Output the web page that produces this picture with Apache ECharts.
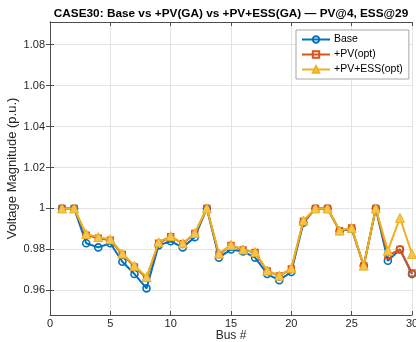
<!DOCTYPE html>
<html>
<head>
<meta charset="utf-8">
<script src="https://cdn.jsdelivr.net/npm/echarts@6/dist/echarts.min.js"></script>
<style>
html,body{margin:0;padding:0;background:#fff;}
#c{width:416px;height:342px;}
</style>
</head>
<body>
<div id="c"></div>
<script>
const buses = [1,2,3,4,5,6,7,8,9,10,11,12,13,14,15,16,17,18,19,20,21,22,23,24,25,26,27,28,29,30];
const baseV = [1.000,1.000,0.983,0.981,0.983,0.974,0.968,0.961,0.982,0.984,0.981,0.986,1.000,0.976,0.980,0.979,0.976,0.968,0.965,0.969,0.993,1.000,1.000,0.989,0.990,0.972,1.000,0.9745,0.980,0.968];
const pvV   = [1.000,1.000,0.987,0.9855,0.9845,0.9775,0.9715,0.966,0.983,0.9862,0.9828,0.9878,1.000,0.9775,0.982,0.9798,0.9785,0.9695,0.967,0.9705,0.9938,1.000,1.000,0.9892,0.9905,0.972,1.000,0.977,0.980,0.9685];
const essV  = [1.000,1.000,0.9875,0.986,0.985,0.978,0.972,0.9665,0.9835,0.9865,0.983,0.988,1.000,0.978,0.9822,0.980,0.9787,0.9697,0.9672,0.9708,0.9941,1.000,1.000,0.9892,0.9905,0.9721,1.000,0.9794,0.9954,0.9778];
const yTicks = [0.96,0.98,1.00,1.02,1.04,1.06,1.08];
const xTicks = [0,5,10,15,20,25,30];
const names = ['Base','+PV(opt)','+PV+ESS(opt)'];
const titleText = 'CASE30: Base vs +PV(GA) vs +PV+ESS(GA) \u2014 PV@4, ESS@29';

const pts = arr => buses.map((b,i)=>[b,arr[i]]);
const fontFam = '"Liberation Sans", Arial, Helvetica, sans-serif';
const axisCol = '#4d4d4d';
const lblCol = '#262626';
const gridCol = '#e3e3e3';
const fmtY = v => { const s = (+v).toFixed(2).replace(/0+$/,'').replace(/\.$/,''); return s; };

const chart = echarts.init(document.getElementById('c'), null, {renderer:'canvas'});
chart.setOption({
  animation:false,
  backgroundColor:'#fff',
  title:{
    text:titleText, left:226, top:3, textAlign:'center',
    textStyle:{fontFamily:fontFam, fontSize:11.8, fontWeight:'bold', color:'#000'}
  },
  legend:{
    data:names, orient:'vertical', left:296, top:30,
    itemWidth:28, itemHeight:8, itemGap:4,
    padding:[4,6,4,5],
    borderColor:'#a6a6a6', borderWidth:1, backgroundColor:'#fff',
    textStyle:{fontFamily:fontFam, fontSize:10.5, color:'#000', padding:[0,0,0,-1]}
  },
  grid:{left:50, right:4, top:22, bottom:27, containLabel:false, outerBoundsMode:'none'},
  xAxis:[{
    type:'value', min:0, max:30, interval:5,
    name:'Bus #', nameLocation:'middle', nameGap:15, nameMoveOverlap:false,
    nameTextStyle:{fontFamily:fontFam, fontSize:12, color:lblCol, verticalAlign:'top'},
    axisLine:{show:true, lineStyle:{color:axisCol, width:1}},
    axisTick:{show:true, inside:true, length:4, lineStyle:{color:axisCol}},
    axisLabel:{fontFamily:fontFam, fontSize:11, color:lblCol, margin:3, customValues:xTicks},
    splitLine:{show:true, lineStyle:{color:gridCol, width:1}}
  },{
    type:'value', min:0, max:30, interval:5, position:'top',
    axisLine:{show:true, lineStyle:{color:axisCol, width:1}},
    axisTick:{show:true, inside:true, length:4, lineStyle:{color:axisCol}},
    axisLabel:{show:false}, splitLine:{show:false}
  }],
  yAxis:[{
    type:'value', min:0.948, max:1.091,
    name:'Voltage Magnitude (p.u.)', nameLocation:'middle', nameGap:31, nameMoveOverlap:false,
    nameTextStyle:{fontFamily:fontFam, fontSize:13, color:lblCol},
    axisLine:{show:true, lineStyle:{color:axisCol, width:1}},
    axisTick:{show:true, inside:true, length:4, customValues:yTicks, lineStyle:{color:axisCol}},
    axisLabel:{fontFamily:fontFam, fontSize:11, color:lblCol, margin:5, customValues:yTicks, formatter:fmtY},
    splitLine:{show:true, lineStyle:{color:gridCol, width:1}}
  },{
    type:'value', min:0.948, max:1.091, position:'right',
    axisLine:{show:true, lineStyle:{color:axisCol, width:1}},
    axisTick:{show:true, inside:true, length:4, customValues:yTicks, lineStyle:{color:axisCol}},
    axisLabel:{show:false}, splitLine:{show:false}
  }],
  series:[
    {name:names[0], type:'line', data:pts(baseV), symbol:'circle', symbolSize:7,
     lineStyle:{color:'#0072BD', width:2},
     itemStyle:{color:'rgba(255,255,255,0)', borderColor:'#0072BD', borderWidth:1.6}, z:2},
    {name:names[1], type:'line', data:pts(pvV), symbol:'rect', symbolSize:6,
     lineStyle:{color:'#D95319', width:2},
     itemStyle:{color:'rgba(255,255,255,0)', borderColor:'#D95319', borderWidth:1.4}, z:3},
    {name:names[2], type:'line', data:pts(essV), symbol:'triangle', symbolSize:9,
     lineStyle:{color:'#EDB120', width:2},
     itemStyle:{color:'#F2C650', borderColor:'#EDB120', borderWidth:1}, z:4}
  ]
});
</script>
</body>
</html>
